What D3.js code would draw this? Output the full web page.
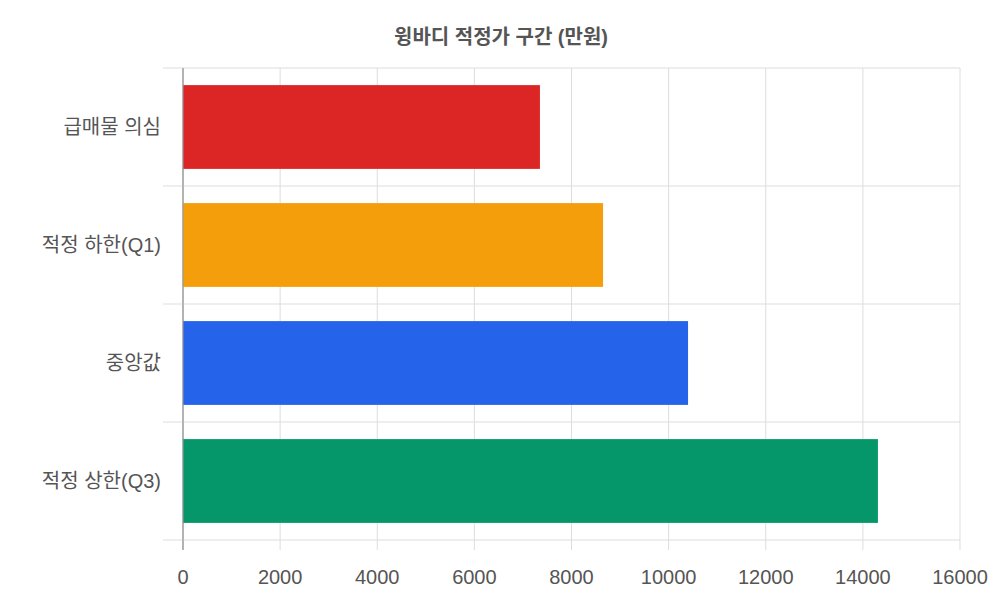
<!DOCTYPE html>
<html>
<head>
<meta charset="utf-8">
<script src="https://cdn.jsdelivr.net/npm/d3@7"></script>
<style>
body { margin: 0; background: #fff; }
text { font-family: "Liberation Sans", "Noto Sans CJK KR", sans-serif; }
</style>
</head>
<body>
<div id="chart"></div>
<script>
// data
const categories = ['급매물 의심', '적정 하한(Q1)', '중앙값', '적정 상한(Q3)']
const values = [7350, 8650, 10400, 14310]
const colors = ['#dc2626', '#f59e0b', '#2563eb', '#059669']
const ticks = [0, 2000, 4000, 6000, 8000, 10000, 12000, 14000, 16000]

const width = 1000, height = 600
const margin = { top: 68, right: 40, bottom: 60, left: 183 }
const innerW = width - margin.left - margin.right
const innerH = height - margin.top - margin.bottom

const svg = d3.select('#chart').append('svg')
  .attr('width', width)
  .attr('height', height)

svg.append('text')
  .attr('x', width / 2 + 1)
  .attr('y', 44)
  .attr('text-anchor', 'middle')
  .style('font-size', '20px')
  .style('font-weight', 'bold')
  .style('fill', '#555')
  .text('윙바디 적정가 구간 (만원)')

const g = svg.append('g').attr('transform', `translate(${margin.left},${margin.top})`)

const x = d3.scaleLinear().domain([0, 16000]).range([0, innerW])
const y = d3.scaleBand().domain(categories).range([0, innerH]).paddingInner(0.29).paddingOuter(0.145)

// vertical grid
g.selectAll('.vgrid').data(ticks).enter().append('line')
  .attr('x1', d => x(d)).attr('x2', d => x(d))
  .attr('y1', 0).attr('y2', innerH + 10)
  .attr('stroke', d => d === 0 ? '#999' : '#ddd')

// horizontal grid at band boundaries
const step = innerH / categories.length
g.selectAll('.hgrid').data(d3.range(categories.length + 1)).enter().append('line')
  .attr('x1', -20).attr('x2', innerW)
  .attr('y1', d => d * step).attr('y2', d => d * step)
  .attr('stroke', '#ddd')

g.selectAll('rect').data(values).enter().append('rect')
  .attr('x', 0)
  .attr('y', (d, i) => y(categories[i]))
  .attr('width', d => x(d))
  .attr('height', y.bandwidth())
  .attr('fill', (d, i) => colors[i])

// redraw zero axis on top
g.append('line').attr('x1', 0).attr('x2', 0).attr('y1', 0).attr('y2', innerH + 10).attr('stroke', '#999')

g.selectAll('.ylab').data(categories).enter().append('text')
  .attr('x', -22)
  .attr('y', d => y(d) + y.bandwidth() / 2)
  .attr('dy', '0.35em')
  .attr('text-anchor', 'end')
  .style('font-size', '20px')
  .style('fill', '#555')
  .text(d => d)

g.selectAll('.xlab').data(ticks).enter().append('text')
  .attr('x', d => x(d))
  .attr('y', innerH + 44)
  .attr('text-anchor', 'middle')
  .style('font-size', '20px')
  .style('fill', '#555')
  .text(d => d)
</script>
</body>
</html>
